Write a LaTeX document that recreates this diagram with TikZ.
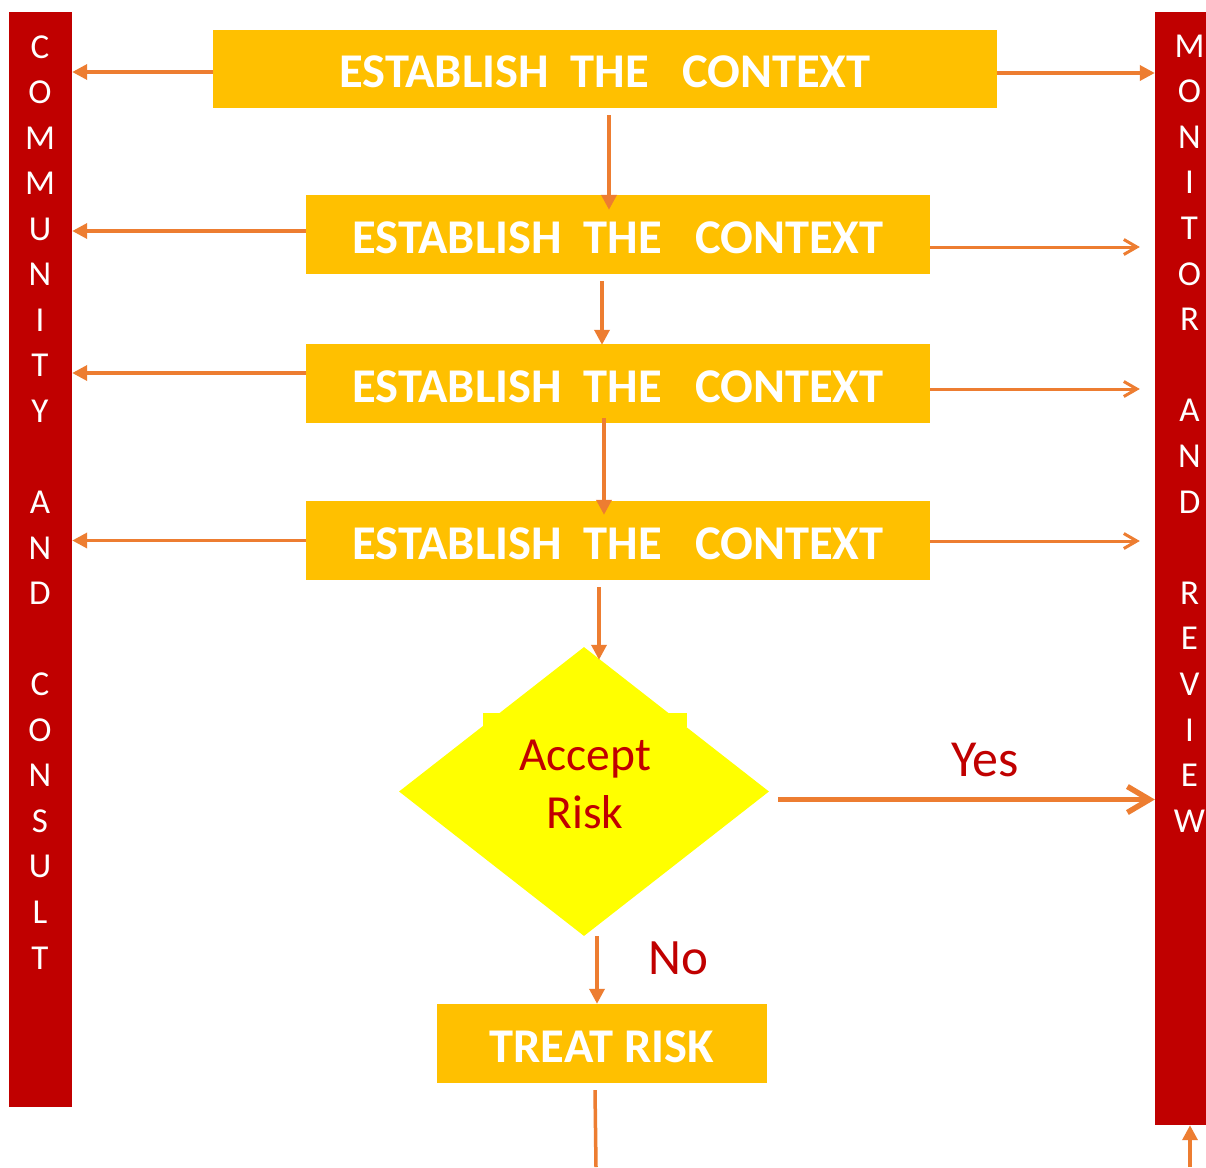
\documentclass[tikz,border=0pt]{standalone}
\usepackage{fontspec}
\setmainfont{Carlito}
\usetikzlibrary{arrows.meta,shapes.geometric}
\definecolor{bred}{HTML}{C00000}
\definecolor{bgold}{HTML}{FFC000}
\definecolor{barr}{HTML}{ED7D31}
\definecolor{byel}{HTML}{FFFF00}
\begin{document}
\begin{tikzpicture}[x=1pt,y=-1pt,
  ybox/.style={fill=bgold, inner sep=0pt, text=white, font=\fontsize{48.5}{58}\selectfont\bfseries, text height=37.5pt, text depth=0pt},
  barbox/.style={fill=bred, inner sep=0pt},
  barletter/.style={text=white, font=\fontsize{35}{40}\selectfont, anchor=base, inner sep=0pt},
  redtext/.style={text=bred, inner sep=0pt, anchor=base},
  arr/.style={draw=barr, line width=3.5pt, -{Triangle[length=15pt,width=15pt]}},
  arrb/.style={draw=barr, line width=3pt, -{Straight Barb[length=13pt,width=15pt]}},
  plain/.style={draw=barr, line width=3.5pt}
]
\useasboundingbox (0,0) rectangle (1206,1167);
\fill[white] (0,0) rectangle (1206,1167);

% side bars
\node[barbox, minimum width=63pt, minimum height=1095pt] (cbar) at (40.5,559.5) {};
\node[barbox, minimum width=65pt, minimum height=1113pt] (mbar) at (1187.5,568.5) {};

\foreach \ch [count=\i] in {C,O,M,M,U,N,I,T,Y,{},A,N,D,{},C,O,N,S,U,L,T}
  \node[barletter] (cl\i) at (40,{58+(\i-1)*45.55}) {\ch};
\foreach \ch [count=\i] in {M,O,N,I,T,O,R,{},A,N,D,{},R,E,V,I,E,W}
  \node[barletter] (ml\i) at (1189.5,{57+(\i-1)*45.6}) {\ch};

% boxes
\node[ybox, minimum width=784pt, minimum height=78pt] (b1) at (605,69) {ESTABLISH\ \ THE\ \ \ CONTEXT};
\node[ybox, minimum width=624pt, minimum height=79pt] (b2) at (618,234.5) {ESTABLISH\ \ THE\ \ \ CONTEXT};
\node[ybox, minimum width=624pt, minimum height=79pt] (b3) at (618,383.5) {ESTABLISH\ \ THE\ \ \ CONTEXT};
\node[ybox, minimum width=624pt, minimum height=79pt] (b4) at (618,540.5) {ESTABLISH\ \ THE\ \ \ CONTEXT};
\node[ybox, minimum width=330pt, minimum height=79pt] (tr) at (602,1043.5) {TREAT RISK};

% decision
\fill[byel] (483,713) rectangle (687,727);
\node[diamond, fill=byel, inner sep=0pt, minimum width=370pt, minimum height=289pt] (dia) at (584,791.5) {};
\node[redtext, font=\fontsize{47.5}{58}\selectfont] (acc) at (585,770) {Accept};
\node[redtext, font=\fontsize{47.5}{58}\selectfont] (rsk) at (585,828) {Risk};
\node[redtext, font=\fontsize{52}{60}\selectfont] (yes) at (985,776) {Yes};
\node[redtext, font=\fontsize{51}{60}\selectfont] (no) at (678,974) {No};

% coordinates for free ends
\coordinate (bot) at (596,1167);
\coordinate (botr) at (1190,1167);

% left arrows
\draw[arr] ([yshift=-3pt]b1.west) -- ([yshift=-3pt]b1.west -| cbar.east);
\draw[arr] ([yshift=3.5pt]b2.west) -- ([yshift=3.5pt]b2.west -| cbar.east);
\draw[arr] ([yshift=10.5pt]b3.west) -- ([yshift=10.5pt]b3.west -| cbar.east);
\draw[arr] (b4.west) -- (b4.west -| cbar.east);

% right arrows
\draw[arr] ([yshift=-4pt]b1.east) -- ([yshift=-4pt]b1.east -| mbar.west);
\draw[arrb] ([yshift=-12.5pt]b2.east) -- ([yshift=-12.5pt,xshift=-15pt]b2.east -| mbar.west);
\draw[arrb] ([yshift=-5.5pt]b3.east) -- ([yshift=-5.5pt,xshift=-15pt]b3.east -| mbar.west);
\draw[arrb] ([yshift=-0.5pt]b4.east) -- ([yshift=-0.5pt,xshift=-15pt]b4.east -| mbar.west);

% vertical arrows
\draw[arr] ([xshift=4pt,yshift=-7pt]b1.south) -- ([xshift=-9pt,yshift=-15pt]b2.north);
\draw[arr] ([xshift=-16pt,yshift=-7pt]b2.south) -- ([xshift=-16pt,yshift=-1pt]b3.north);
\draw[arr] ([xshift=-14pt,yshift=5pt]b3.south) -- ([xshift=-14pt,yshift=-14pt]b4.north);
\draw[arr] ([xshift=-19pt,yshift=-7pt]b4.south) -- ([xshift=15pt,yshift=-13pt]dia.north);
\draw[arr] ([xshift=13pt]dia.south) -- ([xshift=13pt]dia.south |- tr.north);
\draw[plain] ([xshift=-7pt,yshift=-7pt]tr.south) -- (bot);
\draw[arr] (botr) -- (botr |- mbar.south);

% yes arrow
\draw[draw=barr, line width=5.5pt, -{Straight Barb[length=22pt,width=26pt]}] ([xshift=9pt,yshift=-8pt]dia.east) -- ([yshift=-8pt]dia.east -| mbar.west);
\end{tikzpicture}
\end{document}
